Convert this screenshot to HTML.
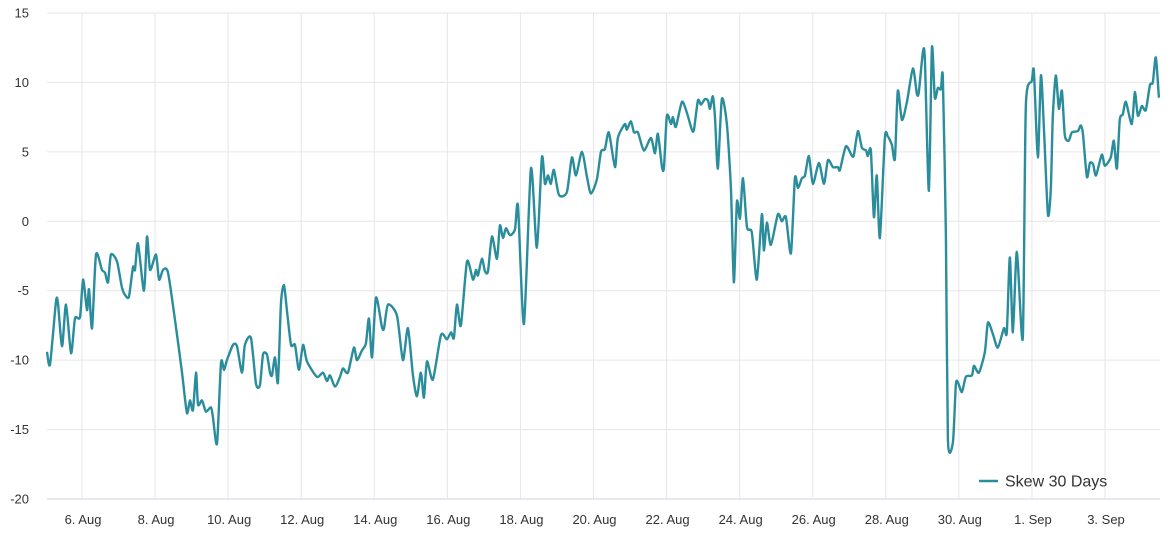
<!DOCTYPE html>
<html><head><meta charset="utf-8"><style>
html,body{margin:0;padding:0;background:#fff;}
svg{display:block;font-family:"Liberation Sans",sans-serif;}
</style></head><body>
<svg id="chart" width="1173" height="541" viewBox="0 0 1173 541" xmlns="http://www.w3.org/2000/svg">
<g id="grid"></g>
<g id="yaxis"></g>
<g id="xaxis"></g>
<g id="series"></g>
<g>
<line x1="979" y1="481" x2="998" y2="481" stroke="#2a8d9c" stroke-width="2.5"/>
<text x="1005" y="486.5" font-size="16" fill="#333">Skew 30 Days</text>
</g>
</svg>
<script>
// hours since 5 Aug 00:00
const hours = [1,3,6.9,8.2,10.9,13.5,16.8,19.4,22.7,24.7,27.3,28.6,30.6,33.2,37.1,39.1,41.1,43,47,50.3,52.9,54.9,57.5,58.8,60.8,64.7,66.7,68.7,72.6,74.6,77.2,80.5,85.7,89.7,92.9,94.9,96.9,98.9,100.2,102.8,105.4,108.7,110,112.7,115.3,117.3,119.2,123.2,125.8,129.1,131,135,138.3,140.9,142.9,145.5,147.5,148.8,150.8,152.7,154.7,156.7,158.6,161.3,163.9,166.5,169.2,171.8,178.3,182.3,184.9,186.9,190.2,193.5,195.4,198.7,202.6,204.6,207.9,210.5,212.5,214.5,217.1,221,222.4,225,230.9,234.8,238.1,241.4,244,246.6,248.6,250.6,254.5,259.8,263.7,266.4,268.3,270.3,272.9,276.9,280.8,282.8,284.1,286.7,288.7,290.7,293.3,296.6,298.5,300.5,302.5,305.1,308.4,310.4,314.3,318.9,322.8,326.1,328.1,330.1,332,334,337.3,342.5,345.8,348.5,352.4,355.7,358.3,362.2,364.9,367.5,370.1,374.1,376,380.6,381.9,384.6,386.6,389.2,393.1,397.7,400.4,402.3,405,406.3,408.2,410.9,412.2,414.1,418.1,421.4,424.6,426,428.6,430.6,433.2,435.2,436.5,438.4,439.8,441.7,444.3,447.6,450.3,452.2,454.2,456.2,458.2,460.8,464,467.3,470.6,471.9,473.9,476.5,481.1,483.7,486.4,489.7,492.3,494.3,496.9,498.9,501.5,504.1,508.1,511.4,514,517.3,520.5,521.9,525.8,529.8,531.1,533.7,536.3,539,540.2,542.2,544.2,546.1,548.1,551.4,553.4,556,558,559.9,562.6,565.9,569.8,572.4,573.7,576.4,577.7,580.3,582.3,584.2,586.2,588.2,589.5,591.5,592.8,596.1,598,599.4,602,604.6,608.6,609.9,613.2,617.1,619.1,622.3,625.6,629.6,631.5,633.5,635.5,638.1,642,644,647.9,649.3,651.9,653.9,655.8,658.5,660.4,661.7,663.7,665.7,667.7,669.6,672.2,674.2,678.2,680.1,681.5,684.1,686.1,688.2,690.1,693.9,695.9,699.8,701.8,703.8,705.7,707.7,709.7,713.6,715.6,717.6,720.2,722.8,725.5,727.4,729.4,731.4];
const skew = [-9.4,-10.3,-5.8,-5.9,-9.0,-6.0,-9.5,-7.0,-6.9,-4.2,-6.4,-4.9,-7.7,-2.4,-3.5,-3.7,-4.4,-2.4,-2.9,-4.8,-5.4,-5.4,-3.3,-3.5,-1.6,-5.0,-1.1,-3.5,-2.4,-4.2,-3.5,-3.7,-7.6,-10.9,-13.8,-12.9,-13.6,-10.9,-13.2,-12.9,-13.7,-13.4,-14.1,-16.0,-10.2,-10.7,-10.0,-8.9,-9.0,-10.9,-8.9,-8.4,-11.7,-11.8,-9.6,-9.6,-10.9,-11.1,-9.8,-11.6,-5.9,-4.6,-6.4,-8.9,-8.9,-10.7,-8.9,-10.1,-11.2,-10.9,-11.5,-11.1,-11.9,-11.2,-10.6,-10.9,-9.1,-10.0,-9.3,-8.8,-7.0,-9.8,-5.5,-7.6,-7.7,-6.0,-6.8,-10.0,-7.7,-11.1,-12.6,-10.9,-12.7,-10.1,-11.4,-8.2,-8.5,-8.0,-8.4,-6.0,-7.5,-2.9,-4.2,-3.5,-3.9,-2.7,-3.6,-3.6,-1.1,-2.7,-0.3,-1.2,-0.5,-1.0,-0.6,1.1,-7.4,3.8,-1.9,4.6,2.7,3.3,2.7,3.7,1.9,2.1,4.6,3.3,5.0,3.2,2.0,3.0,5.0,5.2,6.4,3.9,6.0,7.0,6.6,7.2,6.4,6.4,5.1,6.0,4.9,6.3,3.9,3.9,7.6,7.0,7.5,6.8,8.6,7.8,6.6,6.6,8.7,8.4,8.8,8.7,8.1,9.0,7.5,3.8,8.8,7.0,2.3,-4.4,1.4,0.2,3.1,-0.4,-0.8,-4.2,0.5,-2.1,-0.1,-1.7,0.5,0.0,0.3,-2.3,3.1,2.4,3.1,3.3,4.7,2.7,4.2,2.7,4.4,3.9,3.9,3.7,5.4,4.7,4.8,6.5,5.3,5.1,4.7,5.1,0.3,3.3,-1.2,6.0,6.1,5.5,4.5,9.4,7.3,8.6,11.0,9.2,9.3,12.2,11.6,2.2,12.5,8.9,9.6,9.5,10.3,-1.1,-15.7,-15.9,-11.8,-11.6,-12.3,-11.2,-11.1,-10.4,-10.9,-9.4,-7.3,-8.1,-9.1,-7.7,-8.0,-2.6,-8.0,-2.2,-8.4,8.3,10.1,10.8,4.6,10.5,6.9,0.5,2.3,7.5,10.5,8.1,9.4,6.2,5.8,6.4,6.5,6.9,6.3,3.2,4.2,4.1,3.3,4.8,4.0,4.6,5.8,3.8,7.3,7.7,8.6,7.0,9.3,7.6,8.3,8.0,9.8,10.0,11.8,8.9];
const yTicks = [15,10,5,0,-5,-10,-15,-20];
const xTickHours = [24,72,120,168,216,264,312,360,408,456,504,552,600,648,696];
const xTickLabels = ["6. Aug","8. Aug","10. Aug","12. Aug","14. Aug","16. Aug","18. Aug","20. Aug","22. Aug","24. Aug","26. Aug","28. Aug","30. Aug","1. Sep","3. Sep"];

const X0=47, X1=1160, Y0=13, Y1=499;
const xs = h => 82 + (h-24)*(1105-82)/672;
const ys = v => Y0 + (15-v)*(Y1-Y0)/35;
const NS="http://www.w3.org/2000/svg";
const grid=document.getElementById('grid'), ya=document.getElementById('yaxis'), xa=document.getElementById('xaxis'), ser=document.getElementById('series');

yTicks.forEach(t=>{
  const l=document.createElementNS(NS,'line');
  l.setAttribute('x1',X0);l.setAttribute('x2',X1);l.setAttribute('y1',ys(t));l.setAttribute('y2',ys(t));
  l.setAttribute('stroke', t===-20?'#cfd3e3':'#e6e6ea');l.setAttribute('stroke-width','1');
  
  
  grid.appendChild(l);
  const tx=document.createElementNS(NS,'text');
  tx.setAttribute('x',29);tx.setAttribute('y',ys(t)+4.5);tx.setAttribute('text-anchor','end');
  tx.setAttribute('font-size','13');tx.setAttribute('fill','#333');
  tx.textContent=t;
  
  
  ya.appendChild(tx);
});
xTickHours.forEach((h,i)=>{
  const l=document.createElementNS(NS,'line');
  l.setAttribute('x1',xs(h));l.setAttribute('x2',xs(h));l.setAttribute('y1',Y0);l.setAttribute('y2',Y1);
  l.setAttribute('stroke','#e6e6ea');l.setAttribute('stroke-width','1');
  
  
  grid.appendChild(l);
  const tx=document.createElementNS(NS,'text');
  tx.setAttribute('x',xs(h)+1);tx.setAttribute('y',524);tx.setAttribute('text-anchor','middle');
  tx.setAttribute('font-size','13');tx.setAttribute('fill','#333');
  tx.textContent=xTickLabels[i];
  
  
  xa.appendChild(tx);
});
const pts=hours.map((h,i)=>[xs(h),ys(skew[i])]);
let d='M'+pts[0][0].toFixed(2)+','+pts[0][1].toFixed(2);
for(let i=0;i<pts.length-1;i++){
  const p0=pts[Math.max(0,i-1)],p1=pts[i],p2=pts[i+1],p3=pts[Math.min(pts.length-1,i+2)];
  const t=0.12;
  const c1=[p1[0]+(p2[0]-p0[0])*t,p1[1]+(p2[1]-p0[1])*t];
  const c2=[p2[0]-(p3[0]-p1[0])*t,p2[1]-(p3[1]-p1[1])*t];
  d+=' C'+c1[0].toFixed(2)+','+c1[1].toFixed(2)+' '+c2[0].toFixed(2)+','+c2[1].toFixed(2)+' '+p2[0].toFixed(2)+','+p2[1].toFixed(2);
}
const path=document.createElementNS(NS,'path');
path.setAttribute('d',d);path.setAttribute('fill','none');path.setAttribute('stroke','#2a8d9c');
path.setAttribute('stroke-width','2.4');path.setAttribute('stroke-linejoin','round');


ser.appendChild(path);
</script>
</body></html>
